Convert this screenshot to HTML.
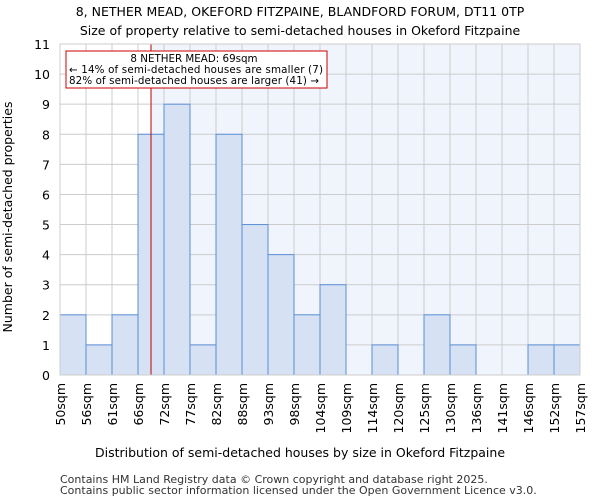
<!DOCTYPE html>
<html><head><meta charset="utf-8"><style>
body{margin:0;background:#fff;font-family:"DejaVu Sans","Liberation Sans",sans-serif}
svg text{font-family:"DejaVu Sans","Liberation Sans",sans-serif}
</style></head><body>
<svg id="c" width="600" height="500">
<text x="300" y="16" text-anchor="middle" font-size="12.5">8, NETHER MEAD, OKEFORD FITZPAINE, BLANDFORD FORUM, DT11 0TP</text>
<text x="300" y="35" text-anchor="middle" font-size="12.5">Size of property relative to semi-detached houses in Okeford Fitzpaine</text>
<g id="plot"></g>
<text x="300" y="457" text-anchor="middle" font-size="12.5">Distribution of semi-detached houses by size in Okeford Fitzpaine</text>
<text transform="translate(12,217) rotate(-90)" text-anchor="middle" font-size="12.5">Number of semi-detached properties</text>
<text x="60" y="483" font-size="11" fill="#333">Contains HM Land Registry data © Crown copyright and database right 2025.</text>
<text x="60" y="494" font-size="11" fill="#333">Contains public sector information licensed under the Open Government Licence v3.0.</text>
</svg>
<script>
const categories=["50sqm","56sqm","61sqm","66sqm","72sqm","77sqm","82sqm","88sqm","93sqm","98sqm","104sqm","109sqm","114sqm","120sqm","125sqm","130sqm","136sqm","141sqm","146sqm","152sqm","157sqm"];
const counts=[2,1,2,8,9,1,8,5,4,2,3,0,1,0,2,1,0,0,1,1];
const yTicks=[0,1,2,3,4,5,6,7,8,9,10,11];
const markerBin=3.5;
const X0=60,X1=580,Y0=375,Y1=44,YMAX=11;
const bw=(X1-X0)/counts.length;
const xs=i=>X0+i*bw, ys=v=>Y0-(v/YMAX)*(Y0-Y1);
const NS="http://www.w3.org/2000/svg",g=document.getElementById('plot');
function mk(t,a,p){const e=document.createElementNS(NS,t);for(const k in a)e.setAttribute(k,a[k]);(p||g).appendChild(e);return e;}
const mx=xs(markerBin);
let e=mk('rect',{x:X0,y:Y1,width:mx-X0,height:Y0-Y1,fill:'#fff'});

e=mk('rect',{x:mx,y:Y1,width:X1-mx,height:Y0-Y1,fill:'#f0f4fc'});

yTicks.forEach(v=>{
 e=mk('line',{x1:X0,x2:X1,y1:ys(v),y2:ys(v),stroke:'#ccc','stroke-width':1});
 
 e=mk('text',{x:X0-10,y:ys(v)+5,'text-anchor':'end','font-size':12.5});e.textContent=v;
 
});
categories.forEach((c,i)=>{
 e=mk('line',{x1:xs(i),x2:xs(i),y1:Y1,y2:Y0,stroke:'#ccc','stroke-width':1});
 
 e=mk('text',{transform:`translate(${xs(i)+5},${Y0+8}) rotate(-90)`,'text-anchor':'end','font-size':12.5});e.textContent=c;
 
});
counts.forEach((v,i)=>{
 if(v<=0)return;
 e=mk('rect',{x:xs(i),y:ys(v),width:bw,height:Y0-ys(v),fill:'#d6e2f3',stroke:'#5b8fd6','stroke-width':1});
 
});
e=mk('line',{x1:mx,x2:mx,y1:Y1,y2:Y0,stroke:'#b00','stroke-width':1});

e=mk('rect',{x:66,y:51,width:261,height:37,fill:'#fff',stroke:'#c00','stroke-width':1});

e=mk('text',{x:194,y:62,'text-anchor':'middle','font-size':10.3});e.textContent="8 NETHER MEAD: 69sqm";

e=mk('text',{x:69,y:73,'font-size':10.3,textLength:254});e.textContent="← 14% of semi-detached houses are smaller (7)";

e=mk('text',{x:69,y:84,'font-size':10.3,textLength:250});e.textContent="82% of semi-detached houses are larger (41) →";

e=mk('rect',{x:X0,y:Y1,width:X1-X0,height:Y0-Y1,fill:'none',stroke:'#ccc'});

</script>
</body></html>
